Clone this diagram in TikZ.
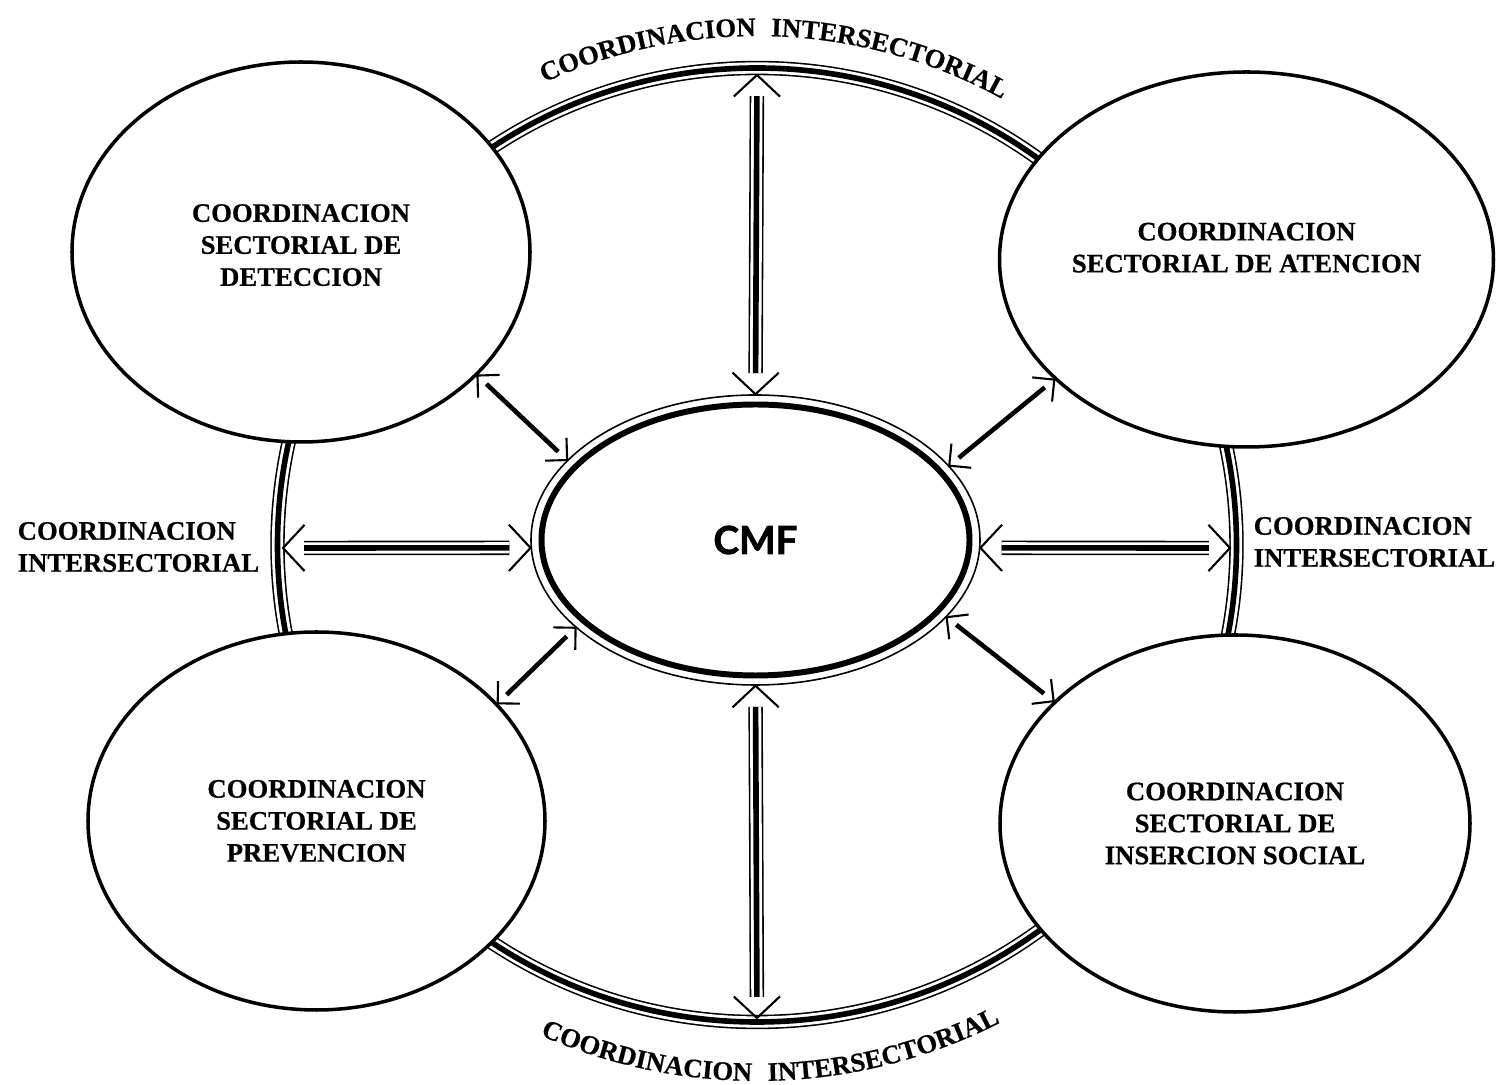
\documentclass[tikz,border=0pt]{standalone}
\usepackage{fontspec}
\setmainfont{Liberation Serif}[BoldFeatures={FakeBold=0.6}]
\newfontfamily\cmffont{Lato}[BoldFeatures={FakeBold=1.6}]
\usetikzlibrary{shapes.geometric,calc,decorations.text}

\tikzset{
  sector/.style={ellipse, draw, line width=1pt, fill=white, inner sep=0pt, align=center,
    font=\bfseries\fontsize{7.6}{9.1}\selectfont},
  sidelabel/.style={inner sep=0pt, align=left, font=\bfseries\fontsize{7.6}{9.1}\selectfont},
  tripleline/.style={line width=4.1pt, postaction={draw, white, line width=3.2pt},
    postaction={draw, black, line width=1.6pt}},
  shaft/.style={tripleline, shorten <=6pt, shorten >=6pt},
  diagline/.style={line width=1.3pt, shorten <=3.5pt, shorten >=3.5pt},
  headline/.style={line width=0.6pt},
  curvedtext/.style={decorate, decoration={text along path, text align=center,
    text={|\bfseries\fontsize{7.6}{9}\selectfont|#1}}},
}

\begin{document}
\begin{tikzpicture}
	\useasboundingbox (0,0) rectangle (15.03,10.85);
	% outer ring
	\coordinate (ringc) at (7.57,5.40);
	\draw[tripleline] (ringc) ellipse [x radius=4.795, y radius=4.77];
	\coordinate (rN) at (7.57,10.10);
	\coordinate (rS) at (7.57,0.67);
	\coordinate (rW) at (2.83,5.37);
	\coordinate (rE) at (12.30,5.37);

	% sectors
	\node[sector, minimum width=4.58cm, minimum height=3.80cm, text depth=4pt] (deteccion) at (3.01,8.33) {COORDINACION\\SECTORIAL DE\\DETECCION};
	\node[sector, minimum width=4.63cm, minimum height=3.75cm, text depth=6.8pt] (atencion) at (12.465,8.255) {COORDINACION\\SECTORIAL DE ATENCION};
	\node[sector, minimum width=4.57cm, minimum height=3.78cm] (prevencion) at (3.165,2.64) {COORDINACION\\SECTORIAL DE\\PREVENCION};
	\node[sector, minimum width=4.70cm, minimum height=3.77cm] (insercion) at (12.35,2.615) {COORDINACION\\SECTORIAL DE\\INSERCION SOCIAL};

	% centre
	\node[ellipse, draw, line width=0.45pt, inner sep=0pt, minimum width=4.49cm, minimum height=2.90cm,
		font=\cmffont\bfseries\fontsize{11}{13}\selectfont] (cmf) at (7.555,5.45) {CMF};
	\draw[line width=1.7pt] (cmf.center) ellipse [x radius=2.14, y radius=1.355];

	% intersectoral arrows
	\foreach \p/\q in {cmf.north/rN, cmf.south/rS, cmf.182/rW, cmf.358/rE} {
		\draw[shaft] (\p) -- (\q);
		\draw[headline] ($(\p)!9pt!47:(\q)$) -- (\p) -- ($(\p)!9pt!-47:(\q)$);
		\draw[headline] ($(\q)!9pt!47:(\p)$) -- (\q) -- ($(\q)!9pt!-47:(\p)$);
	}
	% sectoral arrows
	\foreach \p/\q in {cmf.157/deteccion.325, cmf.21/atencion.212, cmf.206/prevencion.33, cmf.338/insercion.146} {
		\draw[diagline] (\p) -- (\q);
		\draw[headline] ($(\p)!6.3pt!45:(\q)$) -- (\p) -- ($(\p)!6.3pt!-45:(\q)$);
		\draw[headline] ($(\q)!6.3pt!45:(\p)$) -- (\q) -- ($(\q)!6.3pt!-45:(\p)$);
	}

	% labels
	\node[sidelabel, anchor=west] (intW) at (0.17,5.38) {COORDINACION\\INTERSECTORIAL};
	\node[sidelabel, anchor=west] (intE) at (12.53,5.43) {COORDINACION\\INTERSECTORIAL};
	\path[curvedtext=COORDINACION] ([shift={(117.4:5.09)}]ringc) arc[start angle=117.4, end angle=87.4, radius=5.09];
	\path[curvedtext=INTERSECTORIAL] ([shift={(90.8:5.09)}]ringc) arc[start angle=90.8, end angle=58.8, radius=5.09];
	\path[curvedtext=COORDINACION] ([shift={(243.8:5.36)}]ringc) arc[start angle=243.8, end angle=271.8, radius=5.36];
	\path[curvedtext=INTERSECTORIAL] ([shift={(269.1:5.36)}]ringc) arc[start angle=269.1, end angle=299.1, radius=5.36];
\end{tikzpicture}
\end{document}
